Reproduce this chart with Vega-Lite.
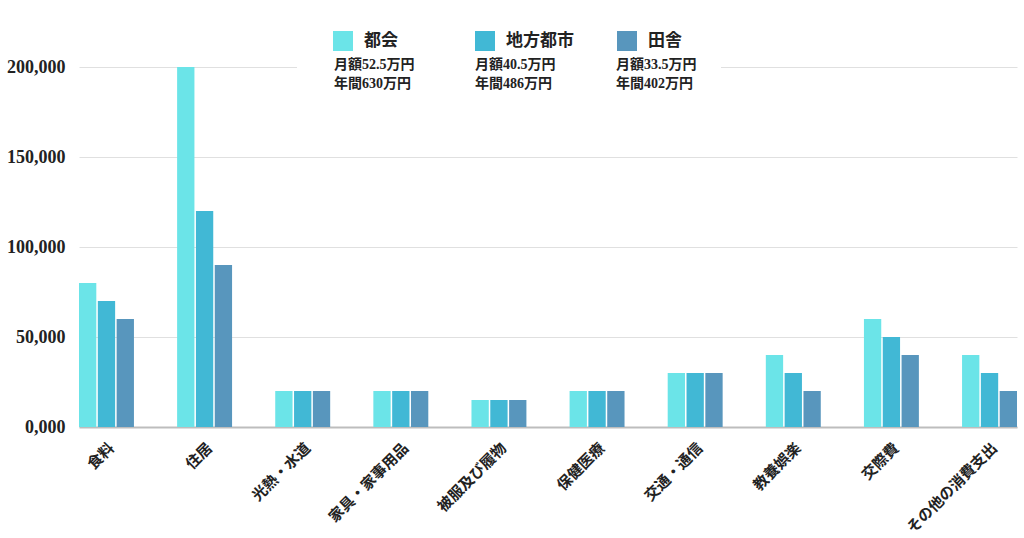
{
  "$schema": "https://vega.github.io/schema/vega-lite/v6.json",
  "width": 938,
  "height": 360,
  "autosize": {"type": "none"},
  "padding": {"left": 79, "top": 67, "right": 7, "bottom": 111},
  "background": "white",
  "data": {
    "values": [
      {"category": "食料", "series": "都会", "note": "月額52.5万円|年間630万円", "value": 80000},
      {"category": "食料", "series": "地方都市", "note": "月額40.5万円|年間486万円", "value": 70000},
      {"category": "食料", "series": "田舎", "note": "月額33.5万円|年間402万円", "value": 60000},
      {"category": "住居", "series": "都会", "note": "月額52.5万円|年間630万円", "value": 200000},
      {"category": "住居", "series": "地方都市", "note": "月額40.5万円|年間486万円", "value": 120000},
      {"category": "住居", "series": "田舎", "note": "月額33.5万円|年間402万円", "value": 90000},
      {"category": "光熱・水道", "series": "都会", "note": "月額52.5万円|年間630万円", "value": 20000},
      {"category": "光熱・水道", "series": "地方都市", "note": "月額40.5万円|年間486万円", "value": 20000},
      {"category": "光熱・水道", "series": "田舎", "note": "月額33.5万円|年間402万円", "value": 20000},
      {"category": "家具・家事用品", "series": "都会", "note": "月額52.5万円|年間630万円", "value": 20000},
      {"category": "家具・家事用品", "series": "地方都市", "note": "月額40.5万円|年間486万円", "value": 20000},
      {"category": "家具・家事用品", "series": "田舎", "note": "月額33.5万円|年間402万円", "value": 20000},
      {"category": "被服及び履物", "series": "都会", "note": "月額52.5万円|年間630万円", "value": 15000},
      {"category": "被服及び履物", "series": "地方都市", "note": "月額40.5万円|年間486万円", "value": 15000},
      {"category": "被服及び履物", "series": "田舎", "note": "月額33.5万円|年間402万円", "value": 15000},
      {"category": "保健医療", "series": "都会", "note": "月額52.5万円|年間630万円", "value": 20000},
      {"category": "保健医療", "series": "地方都市", "note": "月額40.5万円|年間486万円", "value": 20000},
      {"category": "保健医療", "series": "田舎", "note": "月額33.5万円|年間402万円", "value": 20000},
      {"category": "交通・通信", "series": "都会", "note": "月額52.5万円|年間630万円", "value": 30000},
      {"category": "交通・通信", "series": "地方都市", "note": "月額40.5万円|年間486万円", "value": 30000},
      {"category": "交通・通信", "series": "田舎", "note": "月額33.5万円|年間402万円", "value": 30000},
      {"category": "教養娯楽", "series": "都会", "note": "月額52.5万円|年間630万円", "value": 40000},
      {"category": "教養娯楽", "series": "地方都市", "note": "月額40.5万円|年間486万円", "value": 30000},
      {"category": "教養娯楽", "series": "田舎", "note": "月額33.5万円|年間402万円", "value": 20000},
      {"category": "交際費", "series": "都会", "note": "月額52.5万円|年間630万円", "value": 60000},
      {"category": "交際費", "series": "地方都市", "note": "月額40.5万円|年間486万円", "value": 50000},
      {"category": "交際費", "series": "田舎", "note": "月額33.5万円|年間402万円", "value": 40000},
      {"category": "その他の消費支出", "series": "都会", "note": "月額52.5万円|年間630万円", "value": 40000},
      {"category": "その他の消費支出", "series": "地方都市", "note": "月額40.5万円|年間486万円", "value": 30000},
      {"category": "その他の消費支出", "series": "田舎", "note": "月額33.5万円|年間402万円", "value": 20000}
    ]
  },
  "encoding": {
    "x": {
      "field": "category",
      "type": "nominal",
      "sort": null,
      "scale": {"paddingInner": 0.44, "paddingOuter": 0},
      "axis": {
        "title": null,
        "labelAngle": -45,
        "labelAlign": "right",
        "labelBaseline": "middle",
        "labelPadding": 18,
        "labelOffset": 5,
        "labelFont": "Noto Sans CJK JP",
        "labelFontWeight": "bold",
        "labelFontSize": 15,
        "labelColor": "#222222",
        "labelLimit": 300,
        "ticks": false,
        "domainColor": "#bdbdbd",
        "domainWidth": 2,
        "grid": false
      }
    },
    "y": {
      "field": "value",
      "type": "quantitative",
      "scale": {"domain": [0, 200000], "nice": false},
      "axis": {
        "title": null,
        "values": [0, 50000, 100000, 150000, 200000],
        "labelExpr": "datum.value == 0 ? '0,000' : format(datum.value, ',')",
        "labelFont": "Liberation Serif",
        "labelFontWeight": "bold",
        "labelFontSize": 18,
        "labelColor": "#222222",
        "labelPadding": 14,
        "ticks": false,
        "domain": false,
        "gridColor": "#e0e0e0",
        "gridWidth": 1
      }
    }
  },
  "layer": [
    {
      "mark": {"type": "bar"},
      "encoding": {
        "xOffset": {
          "field": "series",
          "type": "nominal",
          "sort": ["都会", "地方都市", "田舎"],
          "scale": {"paddingInner": 0.08, "paddingOuter": 0}
        },
        "color": {
          "field": "series",
          "type": "nominal",
          "sort": ["都会", "地方都市", "田舎"],
          "scale": {"domain": ["都会", "地方都市", "田舎"], "range": ["#6be4e8", "#41b8d5", "#5896bd"]},
          "legend": {
            "title": null,
            "orient": "none",
            "legendX": 254,
            "legendY": -36,
            "direction": "horizontal",
            "columns": 3,
            "gridAlign": "all",
            "columnPadding": 43,
            "padding": 0,
            "symbolType": "square",
            "symbolSize": 400,
            "symbolStrokeWidth": 0,
            "symbolOpacity": 1,
            "labelFont": "Noto Sans CJK JP",
            "labelFontWeight": "bold",
            "labelFontSize": 17,
            "labelColor": "#222222",
            "labelOffset": 11,
            "zindex": 2
          }
        }
      }
    },
    {
      "mark": {"type": "point", "opacity": 0},
      "encoding": {
        "shape": {
          "field": "note",
          "type": "nominal",
          "sort": null,
          "legend": {
            "title": null,
            "orient": "none",
            "legendX": 218,
            "legendY": -32,
            "direction": "horizontal",
            "columns": 3,
            "gridAlign": "all",
            "columnPadding": 46,
            "padding": 23,
            "fillColor": "white",
            "strokeColor": "white",
            "symbolSize": 0,
            "symbolOpacity": 0,
            "symbolStrokeWidth": 0,
            "labelOffset": 0,
            "labelExpr": "split(datum.label, '|')",
            "labelFont": "Liberation Serif, Noto Sans CJK JP",
            "labelFontWeight": "bold",
            "labelFontSize": 14,
            "labelColor": "#222222",
            "labelBaseline": "middle",
            "labelLimit": 200,
            "zindex": 1
          }
        }
      }
    }
  ],
  "config": {
    "view": {"stroke": null},
    "style": {"guide-label": {"lineHeight": 19}}
  }
}
